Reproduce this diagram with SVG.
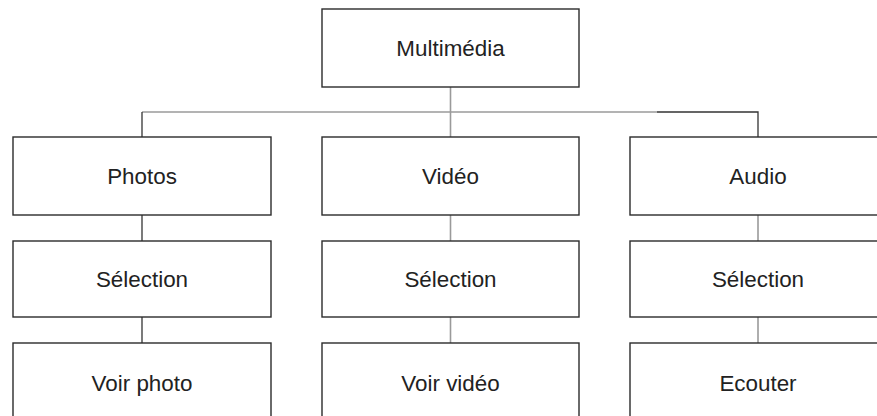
<svg xmlns="http://www.w3.org/2000/svg" width="877" height="416" viewBox="0 0 877 416">
  <style>
    .box { fill: #ffffff; stroke: #2b2b2b; stroke-width: 1.4; }
    .lbl { font-family: "Liberation Sans", Arial, sans-serif; font-size: 22.4px; fill: #222222; text-anchor: middle; }
    .dark { stroke: #333333; stroke-width: 1.3; fill: none; }
    .light { stroke: #9a9a9a; stroke-width: 1.6; fill: none; }
  </style>
  <rect width="877" height="416" fill="#ffffff"/>

  <g id="connectors">
    <line class="light" x1="450.5" y1="87" x2="450.5" y2="137"/>
    <line class="light" x1="142" y1="112" x2="657" y2="112"/>
    <polyline class="dark" points="657,112 758,112 758,137"/>
    <line class="dark" x1="142" y1="112" x2="142" y2="137"/>
    <line class="dark" x1="142" y1="215" x2="142" y2="241"/>
    <line class="dark" x1="142" y1="317" x2="142" y2="343"/>
    <line class="light" x1="450.5" y1="215" x2="450.5" y2="241"/>
    <line class="light" x1="450.5" y1="317" x2="450.5" y2="343"/>
    <line class="light" x1="758" y1="215" x2="758" y2="241"/>
    <line class="light" x1="758" y1="317" x2="758" y2="343"/>
  </g>

  <g id="multimedia">
    <rect class="box" x="322" y="9" width="257" height="78"/>
    <text class="lbl" x="450.5" y="56">Multimédia</text>
  </g>

  <g id="photos">
    <rect class="box" x="13" y="137" width="258" height="78"/>
    <text class="lbl" x="142" y="184">Photos</text>
  </g>
  <g id="video">
    <rect class="box" x="322" y="137" width="257" height="78"/>
    <text class="lbl" x="450.5" y="184">Vidéo</text>
  </g>
  <g id="audio">
    <rect class="box" x="630" y="137" width="258" height="78"/>
    <text class="lbl" x="758" y="184">Audio</text>
  </g>

  <g id="photos-selection">
    <rect class="box" x="13" y="241" width="258" height="76"/>
    <text class="lbl" x="142" y="287">Sélection</text>
  </g>
  <g id="video-selection">
    <rect class="box" x="322" y="241" width="257" height="76"/>
    <text class="lbl" x="450.5" y="287">Sélection</text>
  </g>
  <g id="audio-selection">
    <rect class="box" x="630" y="241" width="258" height="76"/>
    <text class="lbl" x="758" y="287">Sélection</text>
  </g>

  <g id="voir-photo">
    <rect class="box" x="13" y="343" width="258" height="78"/>
    <text class="lbl" x="142" y="391">Voir photo</text>
  </g>
  <g id="voir-video">
    <rect class="box" x="322" y="343" width="257" height="78"/>
    <text class="lbl" x="450.5" y="391">Voir vidéo</text>
  </g>
  <g id="ecouter">
    <rect class="box" x="630" y="343" width="258" height="78"/>
    <text class="lbl" x="758" y="391">Ecouter</text>
  </g>
</svg>
